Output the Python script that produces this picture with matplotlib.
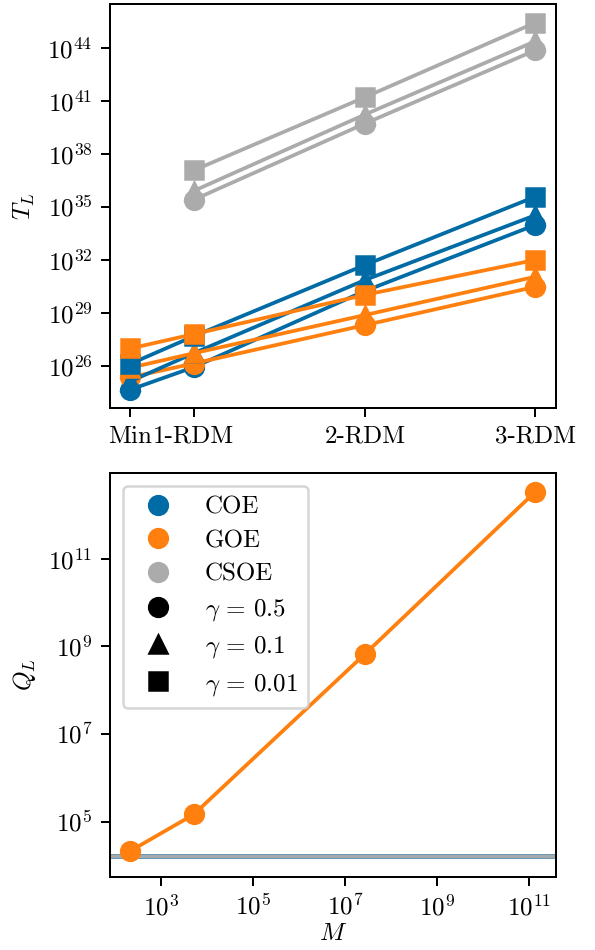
import matplotlib
matplotlib.use("Agg")
import matplotlib.pyplot as plt
from matplotlib.lines import Line2D

plt.rcParams['font.family'] = 'serif'
plt.rcParams['font.serif'] = ['cmr10']
plt.rcParams['mathtext.fontset'] = 'cm'
plt.rcParams['axes.formatter.use_mathtext'] = True
plt.rcParams['axes.unicode_minus'] = False
plt.rcParams['font.size'] = 10

# number of measured observables for each scheme
M = [211, 5060, 2.7e7, 1.4e11]
xlabels = ["Min", "1-RDM", "2-RDM", "3-RDM"]

gammas = [0.5, 0.1, 0.01]
markers = ['o', '^', 's']
ensembles = ["COE", "GOE", "CSOE"]
colors = ['#006BA4', '#FF800E', '#ABABAB']

# log10 of T_L, one row per gamma (0.5, 0.1, 0.01)
coe_logT = [[24.66, 25.93, 30.24, 33.98],
            [25.13, 26.72, 30.86, 34.53],
            [26.12, 27.68, 31.71, 35.58]]
goe_logT = [[25.36, 26.14, 28.31, 30.48],
            [25.90, 26.72, 28.88, 31.05],
            [26.99, 27.80, 30.02, 32.00]]
# CSOE has no "Min" point
csoe_logT = [[35.40, 39.71, 43.86],
             [35.90, 40.22, 44.37],
             [37.06, 41.20, 45.42]]

# Q_L for GOE against M
Q_goe = [2.16e4, 1.47e5, 6.7e8, 3.4e12]
Q_band = [1.47e4, 1.88e4]

fig = plt.figure(figsize=(595 / 180, 950 / 180), dpi=180)
ax1 = fig.add_axes([0.1849, 0.5705, 0.7491, 0.425])
ax2 = fig.add_axes([0.1849, 0.0772, 0.7491, 0.4246])

for g in range(len(gammas)):
    for e, logT in enumerate([coe_logT, goe_logT, csoe_logT]):
        xs = M[len(M) - len(logT[g]):]
        ax1.plot(xs, [10.0 ** v for v in logT[g]], marker=markers[g], color=colors[e],
                 markersize=7.5, lw=1.5)

ax1.set_xscale('log')
ax1.set_yscale('log')
ax1.set_xticks(M)
ax1.set_xticklabels(xlabels)
ax1.minorticks_off()
ax1.set_yticks([10.0 ** k for k in range(26, 45, 3)])
ax1.set_ylabel(r"$T_L$")

ax2.axhspan(Q_band[0], Q_band[1], facecolor='#A6AAAD', edgecolor='#6A98B8', lw=0.4)
ax2.plot(M, Q_goe, marker='o', color=colors[1], markersize=7.5, lw=1.5)
ax2.set_xscale('log')
ax2.set_yscale('log')
ax2.set_xticks([10.0 ** k for k in range(3, 12, 2)])
ax2.set_yticks([10.0 ** k for k in range(5, 12, 2)])
ax2.minorticks_off()
ax2.set_xlabel(r"$M$", labelpad=1)
ax2.set_ylabel(r"$Q_L$")

handles = [Line2D([], [], ls='', marker='o', color=c, markersize=7.5) for c in colors]
handles += [Line2D([], [], ls='', marker=m, color='k', markersize=7.5) for m in markers]
labels = ensembles + [r"$\gamma\,=\,%g$" % g for g in gammas]
ax2.legend(handles, labels, loc='upper left', handletextpad=0.9, labelspacing=0.45)

fig.savefig("out.png", dpi=180)
